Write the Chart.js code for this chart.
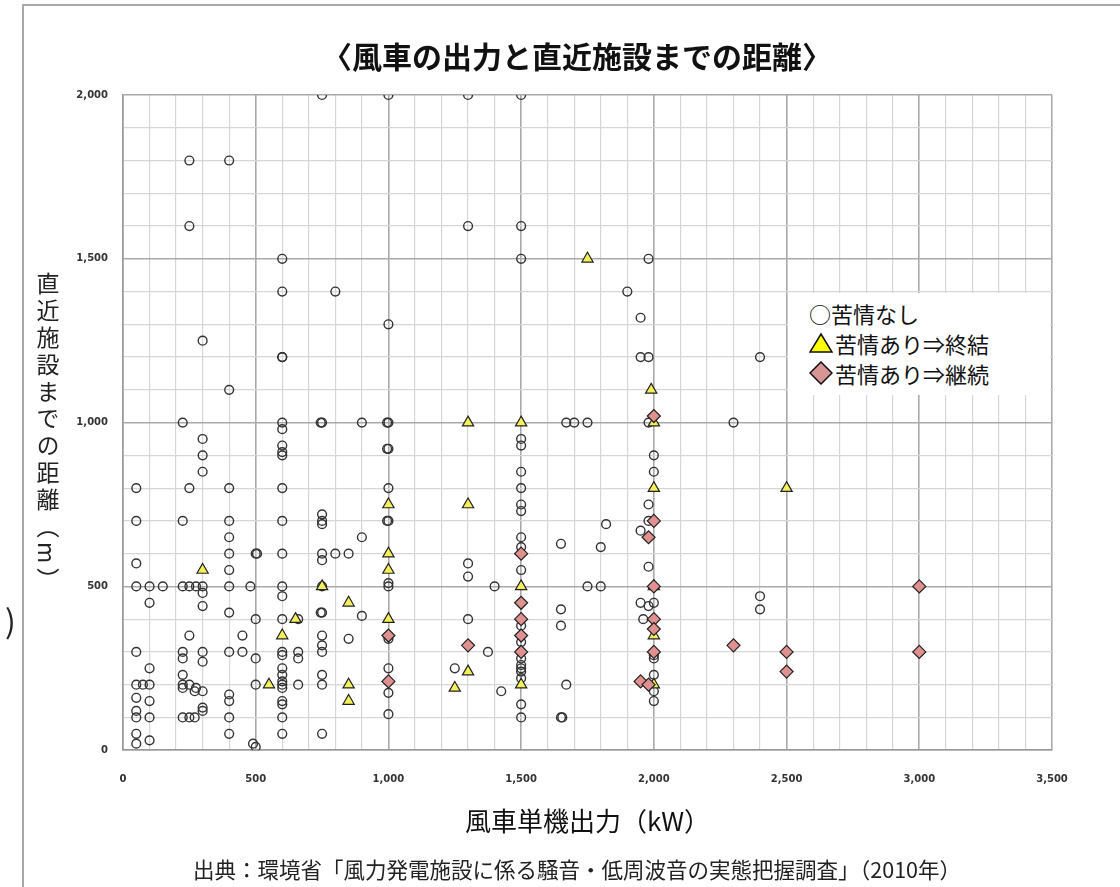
<!DOCTYPE html>
<html>
<head>
<meta charset="utf-8">
<script src="https://cdn.jsdelivr.net/npm/chart.js@4.4.1/dist/chart.umd.min.js"></script>
<style>
  body { margin: 0; background: #fff; }
  #wrap { position: relative; width: 1120px; height: 887px; overflow: hidden; }
  #frame { position: absolute; left: 22px; top: 4px; width: 1120px; height: 900px;
    border-left: 2px solid #a8a8a8; border-top: 2px solid #a8a8a8; pointer-events: none; }
  #ylabel { position: absolute; left: 31px; top: 272px; writing-mode: vertical-rl;
    font: 23px "Noto Sans CJK JP"; letter-spacing: 4px; color: #222; }
  #stray { position: absolute; left: 5px; top: 596px; font: 32px "Noto Sans CJK JP"; color: #222; }
  #legend { position: absolute; left: 788px; top: 293px; width: 262px; height: 102px;
    background: #fff; padding: 5px 0 0 21px; box-sizing: border-box;
    font: 22px "Noto Sans CJK JP"; color: #111; }
  #legend div { height: 30px; line-height: 30px; display: flex; align-items: center; }
  #legend svg { margin-right: 2px; }
</style>
</head>
<body>
<div id="wrap">
  <canvas id="myChart" width="1120" height="887"></canvas>
  <div id="frame"></div>
  <div id="ylabel">直近施設までの距離（m）</div>
  <div id="stray">)</div>
  <div id="legend">
    <div><span>○苦情なし</span></div>
    <div><svg width="24" height="22"><polygon points="12,2 23,20 1,20" fill="#ffff00" stroke="#111" stroke-width="1.5"/></svg>苦情あり⇒終結</div>
    <div><svg width="24" height="24"><polygon points="12,1 23,12 12,23 1,12" fill="#d99594" stroke="#111" stroke-width="1.5"/></svg>苦情あり⇒継続</div>
  </div>
</div>
<script>
// 風車単機出力(kW), 直近施設までの距離(m)
const noComplaint = [
  [50, 800], [50, 700], [50, 570], [50, 500], [50, 300], [50, 200], [50, 160], [50, 120], [50, 100], [50, 50], [50, 20],
  [75, 200],
  [100, 500], [100, 450], [100, 250], [100, 200], [100, 150], [100, 100], [100, 30],
  [150, 500],
  [225, 1000], [225, 700], [225, 500], [225, 300], [225, 280], [225, 230], [225, 200], [225, 190], [225, 100],
  [250, 1800], [250, 1600], [250, 800], [250, 500], [250, 350], [250, 200], [250, 100],
  [270, 180], [270, 100], [275, 500], [275, 190],
  [300, 1250], [300, 950], [300, 900], [300, 850], [300, 500], [300, 480], [300, 440], [300, 300], [300, 270], [300, 180], [300, 130], [300, 120],
  [400, 1800], [400, 1100], [400, 800], [400, 700], [400, 650], [400, 600], [400, 550], [400, 500], [400, 420], [400, 300], [400, 170], [400, 150], [400, 100], [400, 50],
  [450, 350], [450, 300], [480, 500], [490, 20],
  [500, 600], [505, 600], [500, 400], [500, 280], [500, 200], [500, 10],
  [600, 1500], [600, 1400], [600, 1200], [600, 1200], [600, 1000], [600, 980], [600, 930], [600, 910], [600, 900], [600, 800], [600, 700], [600, 600], [600, 500], [600, 470], [600, 400], [600, 300], [600, 290], [600, 250], [600, 230], [600, 210], [600, 200], [600, 190], [600, 150], [600, 140], [600, 100], [600, 50],
  [660, 400], [660, 300], [660, 280], [660, 200],
  [750, 2000], [750, 1000], [745, 1000], [750, 720], [750, 700], [750, 690], [750, 600], [750, 580], [750, 500], [750, 420], [745, 420], [750, 350], [750, 320], [750, 300], [750, 230], [750, 200], [750, 50],
  [800, 1400], [800, 600], [850, 600], [850, 340],
  [900, 1000], [900, 650], [900, 410],
  [1000, 2000], [1000, 1300], [1000, 1000], [995, 1000], [1000, 920], [995, 920], [1000, 800], [1000, 700], [995, 700], [1000, 510], [1000, 500], [1000, 340], [1000, 250], [1000, 175], [1000, 110],
  [1250, 250],
  [1300, 2000], [1300, 1600], [1300, 570], [1300, 530], [1300, 400],
  [1375, 300], [1400, 500], [1425, 180],
  [1500, 2000], [1500, 1600], [1500, 1500], [1500, 950], [1500, 930], [1500, 850], [1500, 800], [1500, 750], [1500, 730], [1500, 650], [1500, 620], [1500, 550], [1500, 380], [1500, 330], [1500, 300], [1500, 280], [1500, 260], [1500, 250], [1500, 240], [1500, 220], [1500, 140], [1500, 100],
  [1650, 630], [1650, 430], [1650, 380], [1650, 100], [1655, 100],
  [1670, 1000], [1670, 200], [1700, 1000], [1750, 1000], [1750, 500],
  [1800, 620], [1800, 500], [1820, 690], [1900, 1400],
  [1950, 1320], [1950, 1200], [1950, 670], [1950, 450], [1960, 400],
  [1980, 1500], [1980, 1200], [1980, 1000], [1980, 750], [1980, 700], [1980, 560], [1980, 440],
  [2000, 900], [2000, 850], [2000, 450], [2000, 290], [2000, 280], [2000, 230], [2000, 180], [2000, 150],
  [2300, 1000], [2400, 1200], [2400, 470], [2400, 430]
];

const resolved = [
  [300, 550], [550, 200], [600, 350], [650, 400], [750, 500], [850, 450], [850, 200], [850, 150],
  [1000, 750], [1000, 600], [1000, 550], [1000, 400], [1250, 190], [1300, 1000], [1300, 750], [1300, 240],
  [1500, 1000], [1500, 500], [1500, 200], [1750, 1500], [1990, 1100], [2000, 1000], [2000, 800],
  [2000, 500], [2000, 350], [2000, 200], [2500, 800]
];

const ongoing = [
  [1000, 350], [1000, 210], [1300, 320], [1500, 600], [1500, 450], [1500, 400], [1500, 350], [1500, 300],
  [1950, 210], [1980, 200], [1980, 650], [2000, 1020], [2000, 700], [2000, 500], [2000, 400], [2000, 370],
  [2000, 300], [2300, 320], [2500, 300], [2500, 240], [3000, 500], [3000, 300]
];

const xMax = 3500;
const yMax = 2000;
const minorStep = 100;
const majorStep = 500;

const toPoints = arr => arr.map(p => ({ x: p[0], y: p[1] }));
const gridColor = c => (c.tick && c.tick.value % majorStep === 0) ? '#a9a9a9' : '#d6d6d6';
const gridWidth = c => (c.tick && c.tick.value % majorStep === 0) ? 1.6 : 1.2;
const tickLabel = v => v % majorStep === 0 ? v.toLocaleString('en-US') : '';
const tickFont = { family: 'DejaVu Sans', size: 10, weight: 'bold' };

const config = {
    type: 'scatter',
    data: {
        datasets: [{
            label: '苦情なし',
            data: toPoints(noComplaint),
            pointStyle: 'circle',
            pointRadius: 4.4,
            borderWidth: 1.4,
            borderColor: '#333',
            backgroundColor: 'rgba(255,255,255,0)',
            order: 3
        }, {
            label: '苦情あり⇒終結',
            data: toPoints(resolved),
            pointStyle: 'triangle',
            pointRadius: 6.5,
            borderWidth: 1.2,
            borderColor: '#222',
            backgroundColor: '#f3f05c',
            order: 2
        }, {
            label: '苦情あり⇒継続',
            data: toPoints(ongoing),
            pointStyle: 'rectRot',
            pointRadius: 6.5,
            borderWidth: 1.2,
            borderColor: '#222',
            backgroundColor: '#e0908f',
            order: 1
        }]
    },
    options: {
        responsive: false,
        animation: false,
        layout: { padding: { left: 60, right: 26, top: 0, bottom: 0 } },
        plugins: {
            legend: { display: false },
            tooltip: { enabled: false },
            title: {
                display: true,
                text: '〈風車の出力と直近施設までの距離〉',
                color: '#111',
                font: { family: 'Noto Sans CJK JP', size: 30, weight: 'bold' },
                padding: { top: 39, bottom: 20 }
            },
            subtitle: {
                display: true,
                position: 'bottom',
                text: '出典：環境省「風力発電施設に係る騒音・低周波音の実態把握調査」（2010年）',
                color: '#222',
                font: { family: 'Noto Sans CJK JP', size: 21.5 },
                padding: { top: 0, bottom: 4 }
            }
        },
        scales: {
            x: {
                type: 'linear',
                min: 0,
                max: xMax,
                afterFit: s => { s.height = 107; },
                grid: { color: gridColor, lineWidth: gridWidth, drawTicks: false },
                border: { color: '#999', width: 1.5 },
                ticks: {
                    stepSize: minorStep, autoSkip: false, maxRotation: 0,
                    padding: 23, color: '#333', font: tickFont, callback: tickLabel
                },
                title: {
                    display: true,
                    text: '風車単機出力（kW）',
                    color: '#111',
                    font: { family: 'Noto Sans CJK JP', size: 26 },
                    padding: { top: 0, bottom: 20 }
                }
            },
            y: {
                min: 0,
                max: yMax,
                afterFit: s => { s.width = 63; },
                grid: { color: gridColor, lineWidth: gridWidth, drawTicks: false },
                border: { color: '#999', width: 1.5 },
                ticks: {
                    stepSize: minorStep, autoSkip: false,
                    padding: 15, color: '#333', font: tickFont, callback: tickLabel
                }
            },
            // empty right-hand axis, only there to keep the plot where the reference has it
            yRight: {
                position: 'right',
                min: 0,
                max: yMax,
                afterFit: s => { s.width = 42; },
                grid: { display: false },
                border: { display: false },
                ticks: { display: false }
            }
        }
    }
};

const myChart = new Chart(
    document.getElementById('myChart'),
    config
);
</script>
</body>
</html>
